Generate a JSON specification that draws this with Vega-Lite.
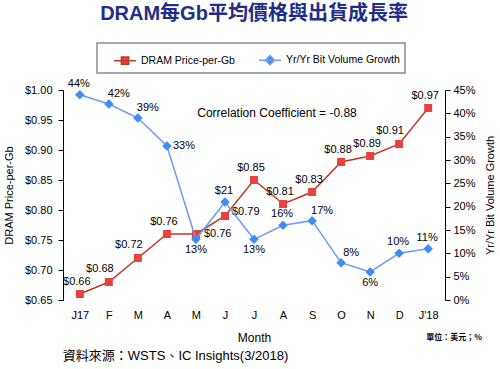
{
  "$schema": "https://vega.github.io/schema/vega-lite/v6.json",
  "width": 382,
  "height": 210,
  "autosize": {"type": "none"},
  "padding": {"left": 63, "top": 90, "right": 55, "bottom": 69},
  "background": "white",
  "title": {
    "text": "DRAM每Gb平均價格與出貨成長率",
    "font": "Liberation Sans, Noto Sans CJK TC",
    "fontSize": 20,
    "fontWeight": "bold",
    "color": "#1f2d8a",
    "anchor": "middle",
    "frame": "group",
    "offset": 18
  },
  "config": {
    "view": {"stroke": null},
    "font": "Liberation Sans",
    "axis": {
      "grid": false,
      "domainColor": "black",
      "tickColor": "black",
      "labelColor": "black",
      "titleColor": "black",
      "labelFont": "Liberation Sans",
      "titleFont": "Liberation Sans",
      "labelFontSize": 11,
      "titleFontSize": 11,
      "titleFontWeight": "normal"
    },
    "text": {"font": "Liberation Sans", "fontSize": 11, "color": "black"}
  },
  "data": {
    "values": [
      {"key": "Jan17", "price": 0.66, "growth": 44, "vlabel": "44%"},
      {"key": "Feb", "price": 0.68, "growth": 42, "vlabel": "42%"},
      {"key": "Mar", "price": 0.72, "growth": 39, "vlabel": "39%"},
      {"key": "Apr", "price": 0.76, "growth": 33, "vlabel": "33%"},
      {"key": "May", "price": 0.76, "growth": 13, "vlabel": "13%"},
      {"key": "Jun", "price": 0.79, "growth": 21, "vlabel": "$21"},
      {"key": "Jul", "price": 0.85, "growth": 13, "vlabel": "13%"},
      {"key": "Aug", "price": 0.81, "growth": 16, "vlabel": "16%"},
      {"key": "Sep", "price": 0.83, "growth": 17, "vlabel": "17%"},
      {"key": "Oct", "price": 0.88, "growth": 8, "vlabel": "8%"},
      {"key": "Nov", "price": 0.89, "growth": 6, "vlabel": "6%"},
      {"key": "Dec", "price": 0.91, "growth": 10, "vlabel": "10%"},
      {"key": "Jan18", "price": 0.97, "growth": 11, "vlabel": "11%"}
    ]
  },
  "encoding": {
    "x": {
      "field": "key",
      "type": "ordinal",
      "scale": {
        "type": "point",
        "padding": 0.58,
        "domain": ["Jan17", "Feb", "Mar", "Apr", "May", "Jun", "Jul", "Aug", "Sep", "Oct", "Nov", "Dec", "Jan18"]
      },
      "axis": {
        "domain": false,
        "ticks": false,
        "labelAngle": 0,
        "labelPadding": 9,
        "labelFontSize": 11,
        "labelExpr": "datum.value == 'Jan17' ? 'J17' : datum.value == 'Jan18' ? 'J\\'18' : substring(datum.value, 0, 1)",
        "title": "Month",
        "titleFontSize": 12,
        "titlePadding": 12
      }
    }
  },
  "layer": [
    {
      "encoding": {
        "y": {
          "field": "price",
          "type": "quantitative",
          "scale": {"domain": [0.65, 1.0], "nice": false, "zero": false},
          "axis": {
            "orient": "left",
            "values": [0.65, 0.7, 0.75, 0.8, 0.85, 0.9, 0.95, 1.0],
            "format": "$.2f",
            "tickSize": 5,
            "labelPadding": 6,
            "title": "DRAM Price-per-Gb",
            "titlePadding": 10
          }
        }
      },
      "layer": [
        {
          "mark": {"type": "line", "strokeWidth": 1.5},
          "encoding": {
            "color": {
              "datum": "DRAM Price-per-Gb",
              "type": "nominal",
              "scale": {
                "domain": ["DRAM Price-per-Gb", "Yr/Yr Bit Volume Growth"],
                "range": ["#bd3a22", "#6d9cf4"]
              },
              "legend": {
                "orient": "none",
                "legendX": 34,
                "legendY": -47,
                "direction": "horizontal",
                "title": null,
                "padding": 5,
                "strokeColor": "#8c8c8c",
                "symbolSize": 484,
                "symbolOffset": 11,
                "labelOffset": 4,
                "columnPadding": 12,
                "labelFont": "Liberation Sans",
                "labelFontSize": 10.5,
                "labelColor": "black",
                "symbolStrokeWidth": 1.5,
                "labelExpr": "datum.value == 'Yr/Yr Bit Volume Growth' ? datum.value + '\u00a0\u00a0\u00a0' : datum.value",
                "encode": {
                  "legend": {"update": {"strokeWidth": {"value": 1.5}}},
                  "symbols": {
                    "update": {
                      "shape": {"signal": "datum.value == 'DRAM Price-per-Gb' ? 'M-1,0H1M-0.33,-0.33H0.33V0.33H-0.33Z' : 'M-1,0H1M0,-0.42L0.42,0L0,0.42L-0.42,0Z'"},
                      "fill": {"signal": "datum.value == 'DRAM Price-per-Gb' ? '#e8423f' : '#3f8cf4'"},
                      "stroke": {"signal": "datum.value == 'DRAM Price-per-Gb' ? '#bd3a22' : '#6d9cf4'"},
                      "strokeWidth": {"value": 1.5},
                      "opacity": {"value": 1}
                    }
                  }
                }
              }
            }
          }
        },
        {
          "mark": {"type": "point", "shape": "square", "filled": true, "size": 64, "color": "#e8423f", "opacity": 1}
        },
        {
          "transform": [{"filter": {"field": "key", "oneOf": ["Feb", "Mar", "Dec"]}}],
          "mark": {"type": "text", "dx": -9, "dy": -13, "baseline": "middle"},
          "encoding": {"text": {"field": "price", "type": "quantitative", "format": "$.2f"}}
        },
        {
          "transform": [{"filter": {"field": "key", "oneOf": ["Jan17", "Apr", "Jul", "Aug", "Sep", "Oct", "Nov", "Jan18"]}}],
          "mark": {"type": "text", "dx": -3, "dy": -12, "baseline": "middle"},
          "encoding": {"text": {"field": "price", "type": "quantitative", "format": "$.2f"}}
        },
        {
          "transform": [{"filter": {"field": "key", "oneOf": ["May"]}}],
          "mark": {"type": "text", "align": "left", "dx": 8, "dy": 0, "baseline": "middle"},
          "encoding": {"text": {"field": "price", "type": "quantitative", "format": "$.2f"}}
        },
        {
          "transform": [{"filter": {"field": "key", "oneOf": ["Jun"]}}],
          "mark": {"type": "text", "align": "left", "dx": 7, "dy": -4, "baseline": "middle"},
          "encoding": {"text": {"field": "price", "type": "quantitative", "format": "$.2f"}}
        },
        {
          "transform": [{"filter": {"field": "key", "equal": "Aug"}}],
          "mark": {"type": "text", "fontSize": 12, "align": "center", "baseline": "middle", "dx": -6},
          "encoding": {
            "y": {"datum": 0.962, "type": "quantitative"},
            "text": {"value": "Correlation Coefficient = -0.88"}
          }
        },
        {
          "transform": [{"filter": {"field": "key", "equal": "Jan17"}}],
          "mark": {"type": "text", "fontSize": 13, "align": "left", "baseline": "middle", "dx": -17, "font": "Liberation Sans, Noto Sans CJK TC"},
          "encoding": {
            "y": {"datum": 0.5567, "type": "quantitative"},
            "text": {"value": "資料來源：WSTS、IC Insights(3/2018)"}
          }
        },
        {
          "transform": [{"filter": {"field": "key", "equal": "Jan18"}}],
          "mark": {"type": "text", "fontSize": 8, "fontWeight": "bold", "align": "left", "baseline": "middle", "dx": -2, "font": "Noto Sans CJK TC"},
          "encoding": {
            "y": {"datum": 0.5867, "type": "quantitative"},
            "text": {"value": "單位：美元；%"}
          }
        }
      ]
    },
    {
      "encoding": {
        "y": {
          "field": "growth",
          "type": "quantitative",
          "scale": {"domain": [0, 45], "nice": false},
          "axis": {
            "orient": "right",
            "values": [0, 5, 10, 15, 20, 25, 30, 35, 40, 45],
            "labelExpr": "datum.value + '%'",
            "tickSize": 5,
            "labelPadding": 3,
            "title": "Yr/Yr Bit Volume Growth",
            "titleAngle": 270,
            "titlePadding": 20
          }
        }
      },
      "layer": [
        {
          "mark": {"type": "line", "strokeWidth": 1.5},
          "encoding": {"color": {"datum": "Yr/Yr Bit Volume Growth", "type": "nominal"}}
        },
        {
          "mark": {"type": "point", "shape": "diamond", "filled": true, "size": 90, "color": "#3f8cf4", "opacity": 1}
        },
        {
          "transform": [{"filter": {"field": "key", "oneOf": ["Jan17", "Jun", "Aug", "Dec", "Jan18"]}}],
          "mark": {"type": "text", "dx": -1, "dy": -11, "baseline": "middle"},
          "encoding": {"text": {"field": "vlabel"}}
        },
        {
          "transform": [{"filter": {"field": "key", "oneOf": ["Feb", "Mar", "Sep", "Oct"]}}],
          "mark": {"type": "text", "dx": 10, "dy": -10, "baseline": "middle"},
          "encoding": {"text": {"field": "vlabel"}}
        },
        {
          "transform": [{"filter": {"field": "key", "oneOf": ["Apr"]}}],
          "mark": {"type": "text", "align": "left", "dx": 6, "dy": 0, "baseline": "middle"},
          "encoding": {"text": {"field": "vlabel"}}
        },
        {
          "transform": [{"filter": {"field": "key", "oneOf": ["May", "Jul", "Nov"]}}],
          "mark": {"type": "text", "dx": 0, "dy": 11, "baseline": "middle"},
          "encoding": {"text": {"field": "vlabel"}}
        }
      ]
    }
  ],
  "resolve": {"scale": {"y": "independent"}}
}
